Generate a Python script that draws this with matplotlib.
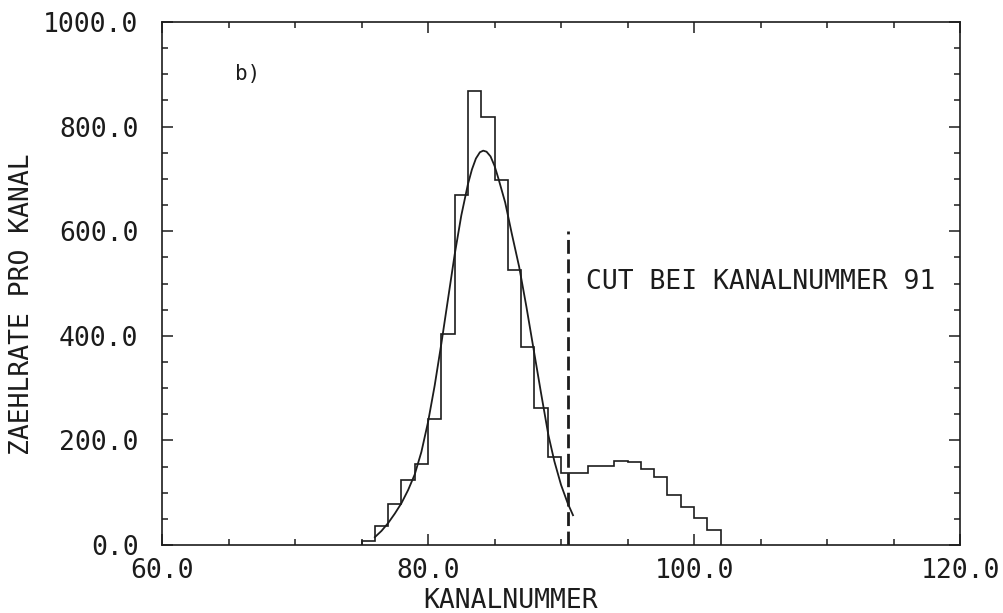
import numpy as np
from matplotlib import pyplot as plt
from matplotlib.ticker import MultipleLocator, FormatStrFormatter

# histogram: bin edges (channel numbers) and counts per channel
bin_edges = list(range(75, 103))
counts = [8, 37, 79, 124, 154, 240, 403, 670, 869, 819, 698, 526, 378, 262, 168,
          137, 137, 152, 152, 160, 158, 146, 130, 95, 73, 52, 28]

# fitted curve, points
fit_x = [76.0, 76.5, 77.0, 77.5, 78.0, 78.5, 79.0, 79.5, 80.0, 80.5, 81.0, 81.5,
         82.0, 82.5, 83.0, 83.3, 83.6, 83.9, 84.15, 84.4, 84.7, 85.0, 85.3,
         85.8, 86.3, 86.85, 87.4, 87.9, 88.5, 89.05, 89.5, 90.0, 90.5, 90.9]
fit_y = [15, 27, 42, 60, 80, 105, 135, 178, 235, 305, 385, 470, 555, 630, 690,
         718, 739, 751, 754, 752, 743, 725, 700, 655, 595, 532, 455, 380, 290,
         210, 160, 115, 80, 57]

cut_channel = 90.5
cut_top = 600
cut_label = 'CUT BEI KANALNUMMER 91'
panel_label = 'b)'

plt.rcParams['font.family'] = ['DejaVu Sans Mono']
ink = '#1c1c1c'

fig = plt.figure(figsize=(10.04, 6.13), dpi=100)
ax = fig.add_axes([0.1614, 0.1109, 0.7948, 0.8532])

ax.stairs(counts, bin_edges, color=ink, lw=1.2)
ax.plot(fit_x, fit_y, color=ink, lw=1.3)
ax.plot([cut_channel, cut_channel], [0, cut_top], color=ink, lw=2.0,
        dashes=(5, 2))

ax.text(91.9, 503, cut_label, fontsize=19, color=ink, va='center', ha='left')
ax.text(65.5, 900, panel_label, fontsize=15, color=ink, va='center', ha='left')

ax.set_xlim(60, 120)
ax.set_ylim(0, 1000)
ax.xaxis.set_major_locator(MultipleLocator(20))
ax.xaxis.set_minor_locator(MultipleLocator(5))
ax.yaxis.set_major_locator(MultipleLocator(200))
ax.yaxis.set_minor_locator(MultipleLocator(50))
ax.xaxis.set_major_formatter(FormatStrFormatter('%.1f'))
ax.yaxis.set_major_formatter(FormatStrFormatter('%.1f'))

ax.tick_params(which='both', direction='in', top=True, right=True,
               color=ink, width=1.1, labelsize=19, labelcolor=ink)
ax.tick_params(which='major', length=8)
ax.tick_params(which='minor', length=4)
ax.tick_params(axis='y', pad=17)
ax.tick_params(axis='x', pad=9)
for s in ax.spines.values():
    s.set_color(ink)
    s.set_linewidth(1.2)

ax.set_xlabel('KANALNUMMER', fontsize=19, color=ink)
ax.xaxis.set_label_coords(0.437, -0.082)
ax.set_ylabel('ZAEHLRATE PRO KANAL', fontsize=19, color=ink, va='center')
ax.yaxis.set_label_coords(-0.175, 0.46)

fig.savefig('out.png', dpi=100)
